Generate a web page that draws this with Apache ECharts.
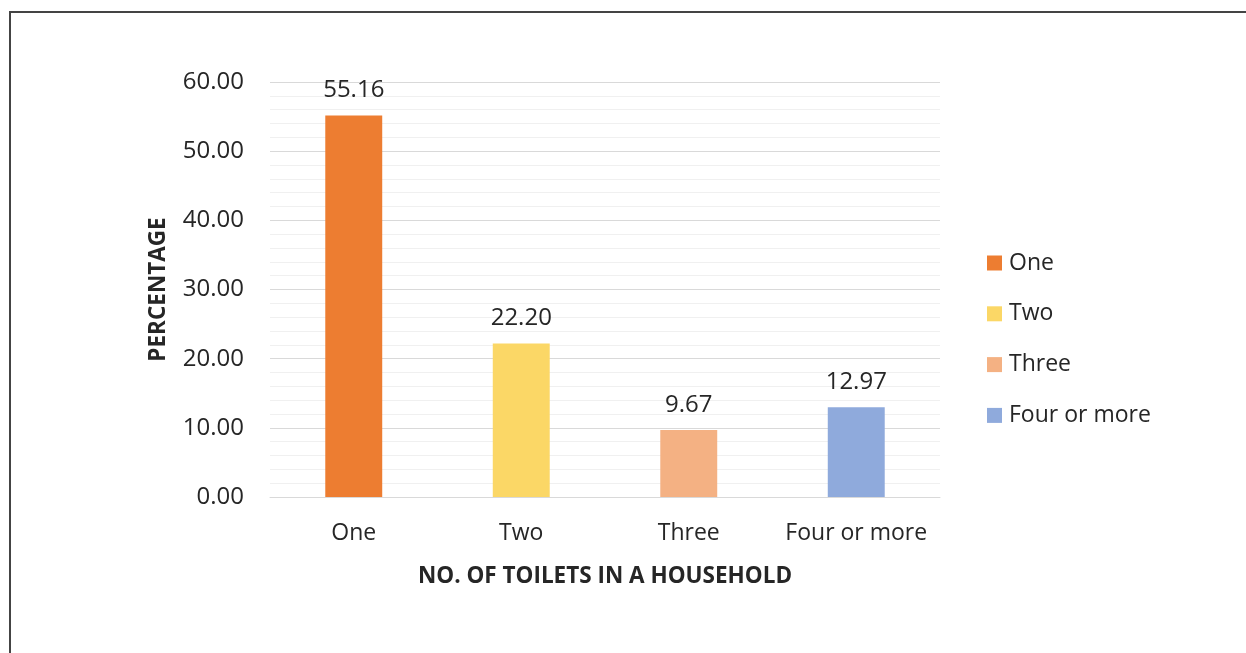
<!DOCTYPE html>
<html>
<head>
<meta charset="utf-8">
<script src="https://cdn.jsdelivr.net/npm/echarts@6/dist/echarts.min.js"></script>
<style>
  html, body { margin: 0; padding: 0; background: #fff; }
  #frame {
    position: absolute;
    left: 9px;
    top: 11px;
    width: 1300px;
    height: 700px;
    border-left: 2px solid #444;
    border-top: 2px solid #444;
  }
  #chart { position: absolute; left: 0; top: 0; width: 1246px; height: 653px; }
</style>
</head>
<body>
<div id="frame"></div>
<div id="chart"></div>
<script>
const categories = ['One', 'Two', 'Three', 'Four or more']
const values = [55.16, 22.20, 9.67, 12.97]
const colors = ['#ED7D31', '#FBD766', '#F4B183', '#8FAADC']
const yTicks = [0, 10, 20, 30, 40, 50, 60]

const font = '"Open Sans", "Noto Sans", sans-serif'

const chart = echarts.init(document.getElementById('chart'))

// one series per category so the legend can show each colour
const series = categories.map((name, i) => ({
  name: name,
  type: 'bar',
  stack: 'total',
  barWidth: '34%',
  data: values.map((v, j) => (j === i ? v : null)),
  itemStyle: { color: colors[i] },
  label: {
    show: true,
    position: 'top',
    distance: 13,
    color: '#262626',
    fontSize: 24,
    fontFamily: font,
    formatter: p => p.value.toFixed(2)
  }
}))

chart.setOption({
  backgroundColor: 'transparent',
  animation: false,
  grid: { left: 270, right: 306, top: 82, bottom: 156 },
  legend: {
    orient: 'vertical',
    left: 982,
    top: 246,
    itemWidth: 15,
    itemHeight: 15,
    itemGap: 26.8,
    icon: 'rect',
    textStyle: { color: '#262626', fontSize: 23, lineHeight: 24, fontFamily: font, padding: [0, 0, 0, 2] },
    data: categories
  },
  xAxis: {
    type: 'category',
    data: categories,
    name: 'NO. OF TOILETS IN A HOUSEHOLD',
    nameLocation: 'middle',
    nameGap: 68,
    nameTextStyle: { color: '#262626', fontSize: 22.5, fontWeight: 'bold', fontFamily: font },
    axisLine: { lineStyle: { color: '#d9d9d9', width: 1 } },
    axisTick: { show: false },
    axisLabel: { color: '#262626', fontSize: 23, fontFamily: font, margin: 25, interval: 0 }
  },
  yAxis: {
    type: 'value',
    min: yTicks[0],
    max: yTicks[yTicks.length - 1],
    interval: 10,
    name: 'PERCENTAGE',
    nameLocation: 'middle',
    nameGap: 100,
    nameTextStyle: { color: '#262626', fontSize: 22.5, fontWeight: 'bold', fontFamily: font },
    axisLine: { show: false },
    axisTick: { show: false },
    axisLabel: { color: '#262626', fontSize: 24, fontFamily: font, margin: 26, formatter: v => v.toFixed(2) },
    splitLine: { lineStyle: { color: '#d9d9d9', width: 1 } },
    minorTick: { show: false, splitNumber: 5 },
    minorSplitLine: { show: true, lineStyle: { color: '#f0f0f0', width: 1 } }
  },
  series: series
})
</script>
</body>
</html>
